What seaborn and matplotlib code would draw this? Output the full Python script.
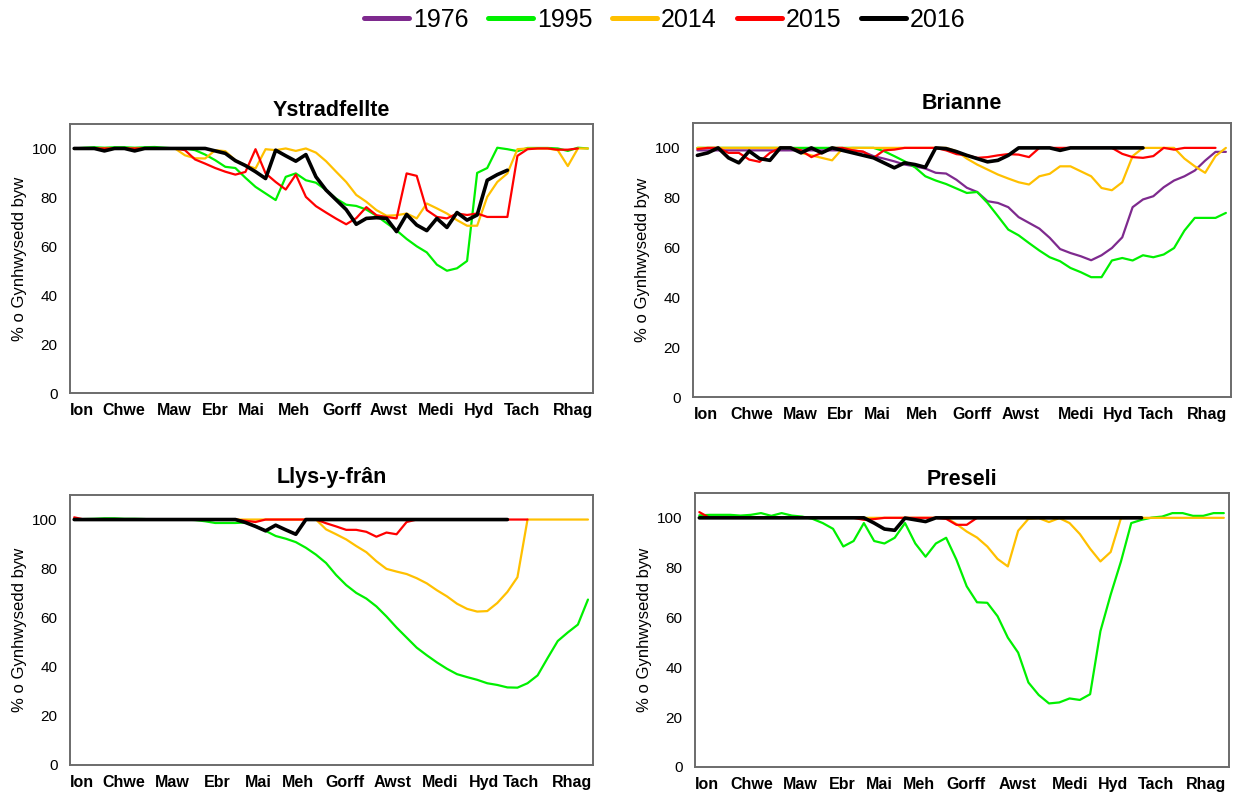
import matplotlib
matplotlib.use("Agg")
import matplotlib.pyplot as plt
from matplotlib.lines import Line2D
import pandas as pd
import seaborn as sns

# ---------------------------------------------------------------------------
# Weekly reservoir storage (% live capacity), index 0 = first week of January
# ---------------------------------------------------------------------------
months = ["Ion", "Chwe", "Maw", "Ebr", "Mai", "Meh",
          "Gorff", "Awst", "Medi", "Hyd", "Tach", "Rhag"]
years = ["1976", "1995", "2014", "2015", "2016"]

# Ystradfellte
ystrad_1995 = [100, 100.3, 100.5, 100.3, 100.5, 100.5, 100.3, 100.5, 100.6, 100.3, 100, 100,
               99.3, 97.5, 95.2, 92.5, 92, 88, 84.3, 81.6, 78.9, 88.4, 89.8, 87, 86, 83,
               79.5, 77, 76.5, 75, 72.5, 69.5, 66.5, 63, 60, 57.5, 52.5, 50, 51, 54,
               90, 92, 100.3, 99.7, 98.9, 100.2, 100.2, 100.2, 100, 99, 100.3, 100]
ystrad_2014 = [100, 100, 100, 100, 100, 100, 100, 100, 100, 100, 100, 97.2,
               96, 95.9, 99.3, 98.9, 95.2, 93.2, 91.8, 99.7, 99.3, 100, 99, 100, 98.3, 94.8,
               90.5, 86.3, 81, 78.2, 74.8, 72.5, 72.7, 73.4, 71.4, 77.5, 75.5, 73.4, 70.7, 68.4,
               68.4, 80.2, 86.3, 89.8, 99.7, 100, 100, 100, 99.3, 92.8, 100, 100]
ystrad_2015 = [100, 100, 100, 100, 100, 100, 100, 100, 100, 100, 100, 99.3,
               95.5, 93.8, 92, 90.5, 89.3, 90.4, 99.7, 89.8, 86.3, 83.2, 89.3, 80.2, 76.4, 73.8,
               71.3, 69, 71.5, 76, 72.7, 72, 71.4, 89.8, 88.8, 74.8, 72, 71.4, 73.4, 72.8,
               73.4, 72, 72, 72, 97, 99.7, 100, 100, 99.5, 99.5, 100]
ystrad_2016 = [100, 100, 100, 99, 100, 100, 99, 100, 100, 100, 100, 100, 100, 100,
               99, 98, 95, 93, 90.5, 87.7, 99.3, 97, 94.8, 97.5, 88.4, 83, 79, 75, 69,
               71.4, 71.7, 71.4, 66, 73, 68.7, 66.4, 71.4, 67.7, 73.8, 70.7, 72.8, 87, 89.3, 91.1]

# Brianne
brianne_1976 = [99, 99, 99, 99, 99, 99, 99, 99, 99, 99, 99, 99, 99, 99, 99, 99,
                98.4, 96.7, 95.7, 94.6, 93.3, 92.6, 91.7, 90, 89.7, 87.2, 84, 82.3, 78.6, 77.9,
                76.2, 72.2, 69.9, 67.6, 63.9, 59.4, 57.8, 56.5, 54.9, 56.9, 59.8, 64.1, 76.2,
                79.3, 80.6, 84.2, 86.9, 88.6, 90.9, 94.9, 98.4, 98.4]
brianne_1995 = [100, 100, 100, 100, 100, 100, 100, 100, 100, 100, 100, 100, 100, 100, 100, 100,
                100, 100, 98.7, 96.7, 94.6, 92.2, 88.6, 86.9, 85.5, 83.7, 81.9, 82.3, 77.9, 72.6,
                67.2, 64.9, 61.8, 58.8, 56.1, 54.5, 51.8, 50.1, 48.1, 48.1, 54.8, 55.8, 54.8,
                56.9, 56.1, 57.2, 59.8, 66.8, 71.9, 71.9, 71.9, 73.9]
brianne_2014 = [100, 100, 100, 100, 100, 100, 100, 100, 100, 100, 98, 97, 96, 95, 99.7,
                100, 100, 100, 100, 100, 100, 100, 100, 100, 100, 98.7, 95.7, 93.3, 91.3, 89.3,
                87.7, 86.2, 85.3, 88.6, 89.6, 92.6, 92.6, 90.6, 88.6, 83.9, 83, 86.2, 96.7,
                100, 100, 100, 100, 95.7, 92.6, 90, 96.7, 100]
brianne_2015 = [99.5, 100, 100, 98, 98, 95.3, 94.4, 98, 100, 100, 99, 96.3, 98, 100, 100,
                99, 98.5, 96, 99, 99.3, 100, 100, 100, 100, 99, 97.5, 97, 96, 96.3, 97,
                97.5, 97.3, 96.3, 100, 100, 100, 100, 100, 100, 100, 100, 97.6, 96.3, 96,
                96.7, 100, 99.3, 100, 100, 100, 100]
brianne_2016 = [97, 98, 100, 96, 94, 98.7, 95.7, 95, 100, 100, 98, 100, 98, 100, 99,
                98, 97, 96, 94, 92, 94, 93.3, 92.2, 100, 99.7, 98.5, 97, 95.7, 94.4, 95,
                97, 100, 100, 100, 100, 99, 100, 100, 100, 100, 100, 100, 100, 100]

# Llys-y-frân
llys_1995 = [100, 100.2, 100.3, 100.5, 100.5, 100.3, 100.3, 100.2, 100, 100, 100, 100,
             99.8, 99.3, 98.6, 98.6, 98.6, 98.8, 97.4, 95.4, 93.3, 92.2, 90.8, 88.5, 85.7,
             82.3, 77.4, 73.3, 70.1, 67.8, 64.6, 60.5, 56, 51.9, 47.8, 44.7, 41.8, 39.2,
             37, 35.8, 34.7, 33.3, 32.6, 31.6, 31.5, 33.3, 36.5, 43.6, 50.5, 54, 57.2, 67.4]
llys_2014 = [100, 100, 100, 100, 100, 100, 100, 100, 100, 100, 100, 100, 100, 100, 100,
             100, 100, 100, 100, 100, 100, 100, 100, 100, 100, 96, 94, 91.9, 89.2, 86.7,
             83, 79.9, 78.8, 77.8, 76.1, 74, 71.2, 68.7, 65.7, 63.6, 62.5, 62.7, 66, 70.5,
             76.5, 100, 100, 100, 100, 100, 100, 100]
llys_2015 = [100.9, 100, 100, 100, 100, 100, 100, 100, 100, 100, 100, 100, 100, 100, 100,
             100, 100, 99.5, 99, 100, 100, 100, 100, 100, 100, 98.5, 97.2, 95.8, 95.8, 95,
             93, 94.7, 94, 99, 100, 100, 100, 100, 100, 100, 100, 100, 100, 100, 100, 100]
llys_2016 = [100, 100, 100, 100, 100, 100, 100, 100, 100, 100, 100, 100, 100, 100, 100,
             100, 100, 98.8, 97.2, 95.4, 97.7, 95.8, 94, 100, 100, 100, 100, 100, 100, 100,
             100, 100, 100, 100, 100, 100, 100, 100, 100, 100, 100, 100, 100, 100]

# Preseli
preseli_1995 = [101, 101.2, 101.2, 101.2, 100.9, 101.2, 101.9, 100.8, 101.9, 100.9, 100.5,
                99.6, 97.9, 95.6, 88.5, 90.7, 97.9, 90.7, 89.7, 92, 97.9, 89.7, 84.4, 89.7,
                92, 83.2, 72.5, 66.1, 65.9, 60.5, 51.9, 45.9, 33.9, 28.9, 25.5, 25.9, 27.5,
                26.9, 29.2, 54.5, 69.2, 82.5, 97.9, 99.2, 100.1, 100.5, 101.9, 101.9, 100.8,
                100.8, 101.9, 101.9]
preseli_2014 = [100, 100, 100, 100, 100, 100, 100, 100, 100, 100, 100, 100, 100, 100, 100,
                100, 100, 100, 100, 100, 100, 100, 100, 100, 100, 97.5, 94.5, 92.1, 88.5,
                83.5, 80.5, 94.8, 99.6, 99.9, 98.3, 99.9, 97.9, 93.5, 87.6, 82.5, 86.3, 99.9,
                100, 100, 100, 100, 100, 100, 100, 100, 100, 100]
preseli_2015 = [102.3, 100, 100, 100, 100, 100, 100, 100, 100, 100, 100, 100, 100, 100, 100,
                100, 99.2, 99.5, 100, 100, 100, 100, 100, 100, 99.6, 97.2, 97.2, 100, 100,
                100, 100, 100, 100, 100, 100, 100, 100, 100, 100, 100, 100, 100, 100, 100]
preseli_2016 = [100, 100, 100, 100, 100, 100, 100, 100, 100, 100, 100, 100, 100, 100, 100,
                100, 100, 97.9, 95.5, 95, 99.9, 99.2, 98.5, 100, 100, 100, 100, 100, 100, 100,
                100, 100, 100, 100, 100, 100, 100, 100, 100, 100, 100, 100, 100, 100]

# Week at which each month label is centred on the category axis
ystrad_month_pos = [0.8, 4.96, 9.9, 14.0, 17.6, 21.8, 26.6, 31.25, 35.9, 40.2, 44.5, 49.5]
brianne_month_pos = [0.84, 5.2, 9.9, 13.8, 17.4, 21.7, 26.5, 31.2, 36.5, 40.6, 44.3, 49.2]
llys_month_pos = [0.8, 4.96, 9.7, 14.2, 18.3, 22.2, 26.9, 31.6, 36.3, 40.7, 44.4, 49.4]
preseli_month_pos = [0.75, 5.1, 9.8, 13.9, 17.5, 21.4, 25.9, 30.9, 36.1, 40.2, 44.4, 49.3]

# ---------------------------------------------------------------------------
# Styling
# ---------------------------------------------------------------------------
colors = {"1976": "#7E2A8E", "1995": "#00F000", "2014": "#FFC000",
          "2015": "#FF0000", "2016": "#000000"}
widths = {"1976": 1.6, "1995": 1.6, "2014": 1.6, "2015": 1.6, "2016": 2.6}

sns.set_style("white")
plt.rcParams["font.family"] = ["Liberation Sans", "DejaVu Sans"]
for key in ("text.color", "axes.labelcolor", "xtick.color", "ytick.color"):
    plt.rcParams[key] = "black"

sites = [
    {"name": "Ystradfellte", "rect": [0.0565, 0.5075, 0.4225, 0.3371], "title_pad": 5.5,
     "ylabel_x": -0.082, "months": ystrad_month_pos,
     "series": {"1995": ystrad_1995, "2014": ystrad_2014, "2015": ystrad_2015, "2016": ystrad_2016}},
    {"name": "Brianne", "rect": [0.5598, 0.5025, 0.4346, 0.3434], "title_pad": 10,
     "ylabel_x": -0.080, "months": brianne_month_pos,
     "series": {"1976": brianne_1976, "1995": brianne_1995, "2014": brianne_2014,
                "2015": brianne_2015, "2016": brianne_2016}},
    {"name": "Llys-y-frân", "rect": [0.0565, 0.0414, 0.4225, 0.3383], "title_pad": 8.5,
     "ylabel_x": -0.082, "months": llys_month_pos,
     "series": {"1995": llys_1995, "2014": llys_2014, "2015": llys_2015, "2016": llys_2016}},
    {"name": "Preseli", "rect": [0.5614, 0.0389, 0.4313, 0.3434], "title_pad": 5.5,
     "ylabel_x": -0.081, "months": preseli_month_pos,
     "series": {"1995": preseli_1995, "2014": preseli_2014, "2015": preseli_2015,
                "2016": preseli_2016}},
]

fig = plt.figure(figsize=(12.38, 7.98), dpi=100)

for site in sites:
    ax = fig.add_axes(site["rect"])
    frames = []
    for yr in years:
        vals = site["series"].get(yr)
        if vals is None:
            continue
        frames.append(pd.DataFrame({"week": range(len(vals)), "pct": vals, "year": yr}))
    df = pd.concat(frames, ignore_index=True)
    for yr in [y for y in years if y in site["series"]]:
        sns.lineplot(data=df[df["year"] == yr], x="week", y="pct", color=colors[yr],
                     linewidth=widths[yr], ax=ax, legend=False, estimator=None, sort=False)

    ax.set_xlim(-0.42, 51.5)
    ax.set_ylim(0, 110)
    ax.set_yticks([0, 20, 40, 60, 80, 100])
    ax.set_xticks(site["months"])
    ax.set_xticklabels(months, fontweight="bold", fontsize=11.5)
    ax.tick_params(axis="both", length=0)
    ax.tick_params(axis="y", labelsize=11, pad=9)
    ax.tick_params(axis="x", pad=7)
    ax.set_xlabel("")
    ax.set_ylabel("% o Gynhwysedd byw", fontsize=12)
    ax.yaxis.set_label_coords(site["ylabel_x"], 0.5)
    ax.set_title(site["name"], fontsize=15.5, fontweight="bold", pad=site["title_pad"])
    for sp in ax.spines.values():
        sp.set_visible(True)
        sp.set_color("#6b6b6b")
        sp.set_linewidth(1.4)

handles = [Line2D([0], [0], color=colors[y], linewidth=3.6, solid_capstyle="round") for y in years]
fig.legend(handles, years, loc="center", bbox_to_anchor=(0.537, 0.975), ncol=5,
           frameon=False, handlelength=1.8, handletextpad=0.15, columnspacing=0.8,
           prop={"size": 18})

fig.savefig("out.png", dpi=100)
